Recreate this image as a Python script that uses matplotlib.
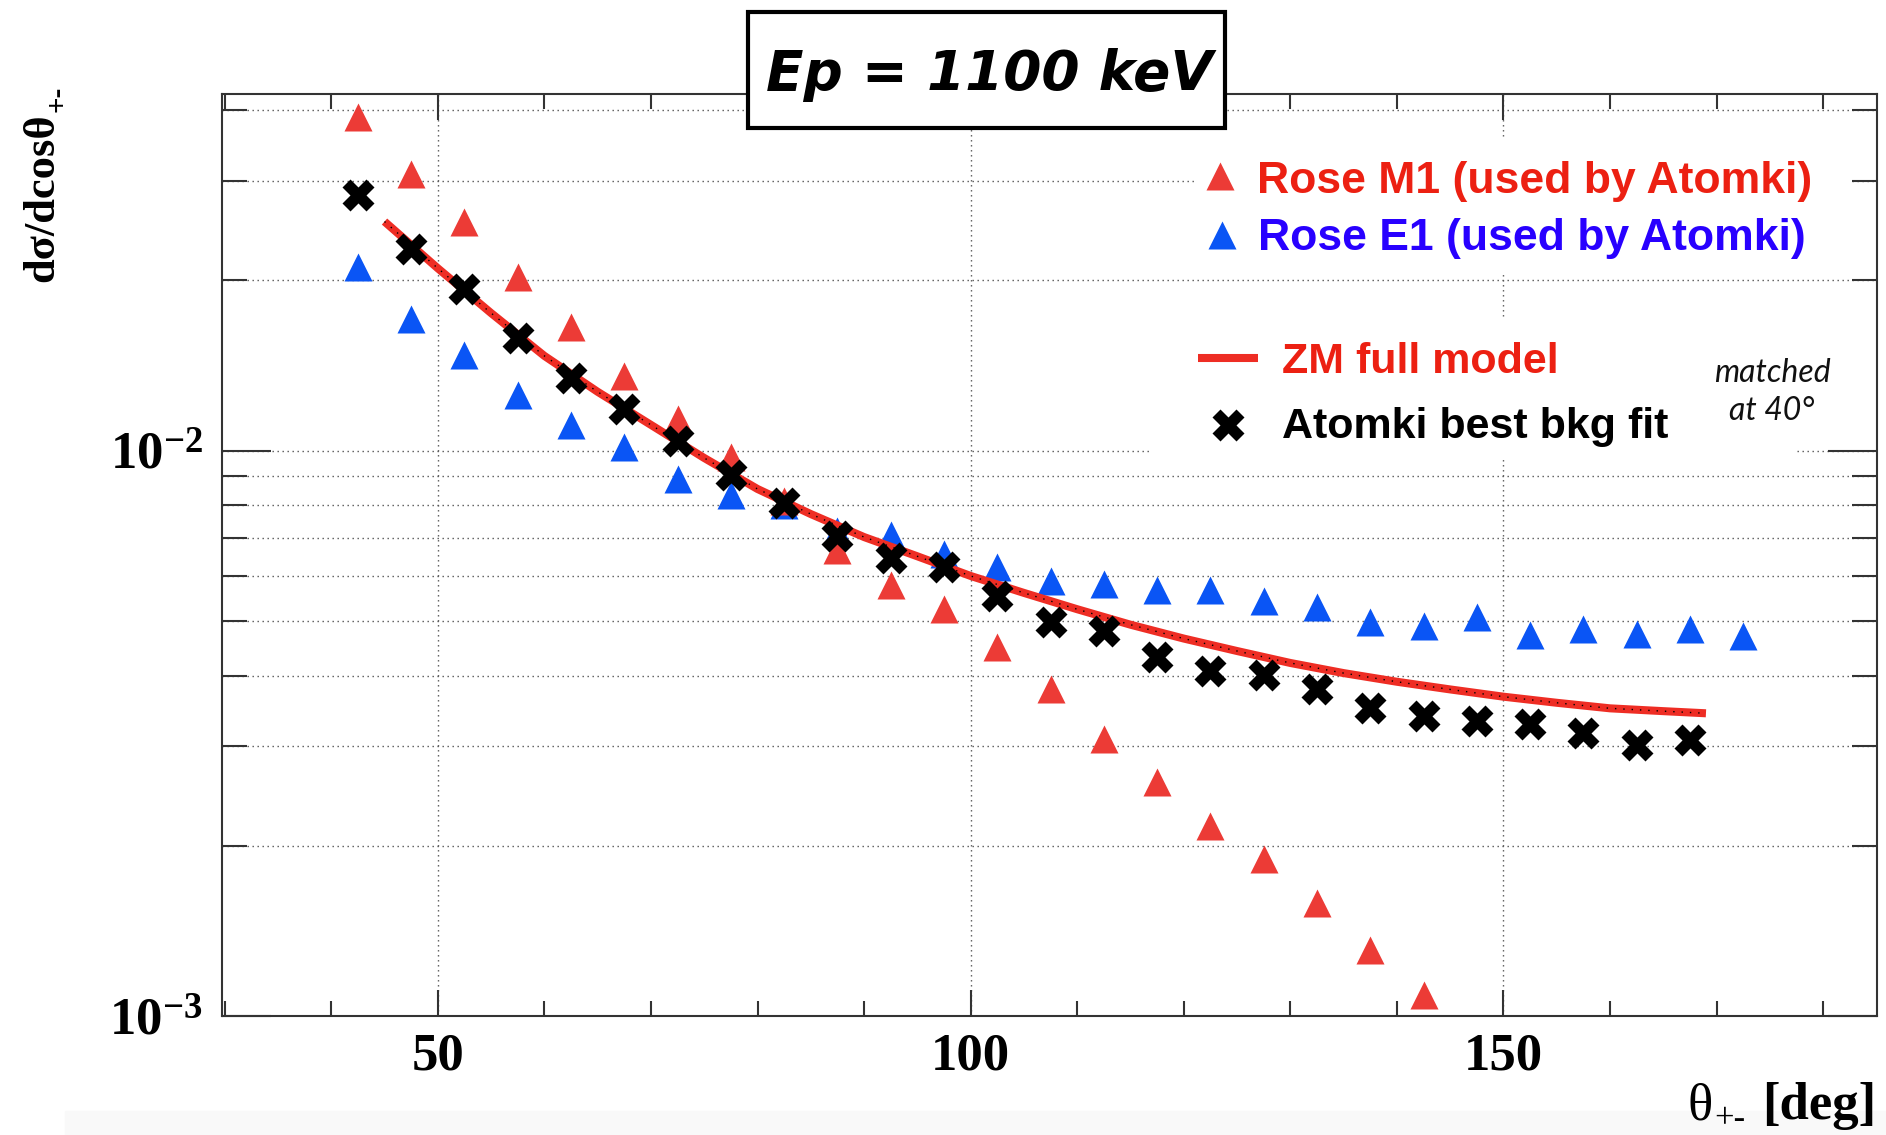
import matplotlib
matplotlib.use("Agg")
import matplotlib.pyplot as plt
from matplotlib.patches import Rectangle
from matplotlib.lines import Line2D
from matplotlib.ticker import FixedLocator, FixedFormatter, NullFormatter

plt.rcParams["font.family"] = ["Liberation Serif", "DejaVu Sans"]
plt.rcParams["font.weight"] = "bold"
plt.rcParams["mathtext.fontset"] = "custom"
plt.rcParams["mathtext.rm"] = "Liberation Serif"
plt.rcParams["mathtext.it"] = "Liberation Serif:italic"
plt.rcParams["mathtext.bf"] = "Liberation Serif:bold"

# ---- data -------------------------------------------------------------
theta_m1 = [42.5, 47.5, 52.5, 57.5, 62.5, 67.5, 72.5, 77.5, 82.5, 87.5,
            92.5, 97.5, 102.5, 107.5, 112.5, 117.5, 122.5, 127.5, 132.5,
            137.5, 142.5]
rose_m1 = [0.0389, 0.0308, 0.0254, 0.0203, 0.01653, 0.01352, 0.01139,
           0.00974, 0.00815, 0.00668, 0.00578, 0.00524, 0.0045, 0.00379,
           0.00309, 0.00259, 0.002166, 0.001895, 0.001587, 0.00131, 0.00109]

theta_e1 = [42.5, 47.5, 52.5, 57.5, 62.5, 67.5, 72.5, 77.5, 82.5, 87.5,
            92.5, 97.5, 102.5, 107.5, 112.5, 117.5, 122.5, 127.5, 132.5,
            137.5, 142.5, 147.5, 152.5, 157.5, 162.5, 167.5, 172.5]
rose_e1 = [0.0211, 0.0171, 0.01477, 0.01256, 0.01111, 0.01013, 0.00892,
           0.00833, 0.00800, 0.00722, 0.00708, 0.00656, 0.00623, 0.00588,
           0.0058, 0.00567, 0.00567, 0.00542, 0.00528, 0.00498, 0.00489,
           0.00508, 0.00472, 0.00484, 0.00473, 0.00484, 0.00469]

theta_bkg = [42.5, 47.5, 52.5, 57.5, 62.5, 67.5, 72.5, 77.5, 82.5, 87.5,
             92.5, 97.5, 102.5, 107.5, 112.5, 117.5, 122.5, 127.5, 132.5,
             137.5, 142.5, 147.5, 152.5, 157.5, 162.5, 167.5]
atomki_bkg = [0.0283, 0.0227, 0.01933, 0.01582, 0.01346, 0.01185, 0.01038,
              0.00905, 0.00807, 0.00707, 0.00646, 0.00622, 0.00554, 0.00498,
              0.00479, 0.00432, 0.00408, 0.00401, 0.00378, 0.00351, 0.00339,
              0.00333, 0.00328, 0.00316, 0.00302, 0.00308]

theta_zm = [45, 50, 55, 60, 65, 70, 75, 80, 85, 90, 95, 100, 105, 110, 115,
            120, 125, 130, 135, 140, 145, 150, 155, 160, 165, 169]
zm_model = [0.0254, 0.0210, 0.0175, 0.0147, 0.0127, 0.0111, 0.0097, 0.00855,
            0.00772, 0.00703, 0.00650, 0.00600, 0.00560, 0.00524, 0.00492,
            0.00465, 0.00442, 0.00421, 0.00404, 0.00390, 0.00378, 0.00367,
            0.00358, 0.00350, 0.00346, 0.00343]

x_major = [50, 100, 150]
x_major_labels = ["50", "100", "150"]
x_minor = [30, 40, 60, 70, 80, 90, 110, 120, 130, 140, 160, 170, 180]
y_major = [1e-3, 1e-2]
y_major_labels = [r"$\mathbf{10^{-3}}$", r"$\mathbf{10^{-2}}$"]
y_minor = [2e-3, 3e-3, 4e-3, 5e-3, 6e-3, 7e-3, 8e-3, 9e-3, 2e-2, 3e-2, 4e-2]

# ---- colours ----------------------------------------------------------
C_M1 = "#ec3b36"
C_E1 = "#0a55f5"
C_LINE = "#ee2d24"
C_RED_TXT = "#ec2012"
C_BLUE_TXT = "#2800ff"
GRID = "#555555"
SPINE = "#333333"

W, H = 1886, 1135
fig = plt.figure(figsize=(W / 100, H / 100), dpi=100)
renderer = fig.canvas.get_renderer()


def fx(px):
    return px / W


def fy(py):
    return 1 - py / H


ax = fig.add_axes([fx(222), fy(1016), (1877 - 222) / W, (1016 - 94) / H])
ax.set_yscale("log")
ax.set_xlim(29.75, 185.05)
ax.set_ylim(1e-3, 0.0427)

# dotted grid
dot = (0, (1, 2.6))
for xv in x_major:
    ax.axvline(xv, color=GRID, lw=1.0, ls=dot, zorder=0.5)
for yv in y_major + y_minor:
    ax.axhline(yv, color=GRID, lw=1.0, ls=dot, zorder=0.5)

# ticks
ax.xaxis.set_major_locator(FixedLocator(x_major))
ax.xaxis.set_major_formatter(FixedFormatter(x_major_labels))
ax.xaxis.set_minor_locator(FixedLocator(x_minor))
ax.xaxis.set_minor_formatter(NullFormatter())
ax.yaxis.set_major_locator(FixedLocator(y_major))
ax.yaxis.set_major_formatter(FixedFormatter(y_major_labels))
ax.yaxis.set_minor_locator(FixedLocator(y_minor))
ax.yaxis.set_minor_formatter(NullFormatter())

ax.tick_params(which="both", direction="in", top=True, right=True,
               color=SPINE, width=1.5)
ax.tick_params(axis="x", which="major", length=19, labelsize=38, pad=12)
ax.tick_params(axis="x", which="minor", length=11)
ax.tick_params(axis="y", which="major", length=35, labelsize=38, pad=14)
ax.tick_params(axis="y", which="minor", length=18)
for lab in ax.get_xticklabels() + ax.get_yticklabels():
    lab.set_fontweight("bold")

for sp in ax.spines.values():
    sp.set_color(SPINE)
    sp.set_linewidth(1.5)

# series
ax.plot(theta_e1, rose_e1, ls="none", marker="^", ms=19.5, color=C_E1,
        mec="none", zorder=3)
ax.plot(theta_m1, rose_m1, ls="none", marker="^", ms=19.5, color=C_M1,
        mec="none", zorder=3.1)
ax.plot(theta_zm, zm_model, color=C_LINE, lw=5.8, zorder=3.5,
        solid_capstyle="butt")
ax.plot(theta_zm, zm_model, color="black", lw=1.0, ls=(0, (1, 5)),
        zorder=3.6)
ax.plot(theta_bkg, atomki_bkg, ls="none", marker="X", ms=23, color="black",
        mec="none", zorder=4)

# y-axis title: main part plus a small "+-" subscript
serif = ["Liberation Serif", "DejaVu Serif"]
ylab = fig.text(fx(53), fy(282), "dσ/dcosθ", rotation=90,
                rotation_mode="anchor", ha="left", va="baseline",
                fontsize=32, fontweight="bold", family=serif)
ytop = ylab.get_window_extent(renderer).y1
fig.text(fx(66), (ytop + 1) / H, "+-", rotation=90, rotation_mode="anchor",
         ha="left", va="baseline", fontsize=21, fontweight="bold",
         family=serif)

# x-axis title
fig.text(fx(1876), fy(1119), "[deg]", ha="right", va="baseline",
         fontsize=38, fontweight="bold", family=serif, zorder=5)
fig.text(fx(1688), fy(1119), "θ", ha="left", va="baseline",
         fontsize=38, fontweight="normal", family=serif, zorder=5)
fig.text(fx(1714), fy(1128), "+-", ha="left", va="baseline",
         fontsize=25, fontweight="normal", family=serif, zorder=5)

# light band along the bottom edge
fig.patches.append(Rectangle((fx(65), 0), 1 - fx(65), 24 / H,
                             transform=fig.transFigure, color="#f9f9f9",
                             zorder=0.5))

# title box
fig.patches.append(Rectangle((fx(748), fy(128)), (1225 - 748) / W,
                             (128 - 12) / H, transform=fig.transFigure,
                             facecolor="white", edgecolor="black", lw=3,
                             zorder=2))
fig.text(fx(989), fy(90), "Ep = 1100 keV", ha="center", va="baseline",
         fontsize=39.5, fontweight="bold", style="italic",
         family=["DejaVu Sans"], zorder=3)

# legend panels
fig.patches.append(Rectangle((fx(1195), fy(275)), (1850 - 1195) / W,
                             (275 - 137) / H, transform=fig.transFigure,
                             facecolor="white", edgecolor="none", zorder=2))
fig.patches.append(Rectangle((fx(1150), fy(460)), (1797 - 1150) / W,
                             (460 - 320) / H, transform=fig.transFigure,
                             facecolor="white", edgecolor="none", zorder=2))

leg_font = dict(fontsize=31, fontweight="bold",
                family=["Liberation Sans", "DejaVu Sans"], va="baseline",
                ha="left", zorder=3)
rose_font = dict(leg_font, fontsize=32)
fig.add_artist(Line2D([fx(1220)], [fy(176)], ls="none", marker="^", ms=19.5,
                      color=C_M1, mec="none", transform=fig.transFigure,
                      zorder=3))
fig.text(fx(1257), fy(193), "Rose M1 (used by Atomki)", color=C_RED_TXT,
         **rose_font)
fig.add_artist(Line2D([fx(1222)], [fy(235)], ls="none", marker="^", ms=19.5,
                      color=C_E1, mec="none", transform=fig.transFigure,
                      zorder=3))
fig.text(fx(1258), fy(250), "Rose E1 (used by Atomki)", color=C_BLUE_TXT,
         **rose_font)
fig.add_artist(Line2D([fx(1198), fx(1258)], [fy(357.5), fy(357.5)],
                      color=C_LINE, lw=5.8, solid_capstyle="butt",
                      transform=fig.transFigure, zorder=3))
fig.text(fx(1282), fy(373), "ZM full model", color=C_RED_TXT, **leg_font)
fig.add_artist(Line2D([fx(1228)], [fy(425)], ls="none", marker="X", ms=23,
                      color="black", mec="none", transform=fig.transFigure,
                      zorder=3))
fig.text(fx(1282), fy(438), "Atomki best bkg fit", color="black", **leg_font)

fig.text(fx(1772), fy(392), "matched\nat 40°", ha="center", va="center",
         fontsize=23, fontweight="normal", style="italic",
         family=["Lato", "DejaVu Sans"], color="#111111", linespacing=1.3,
         zorder=3)

fig.savefig("out.png", dpi=100)
